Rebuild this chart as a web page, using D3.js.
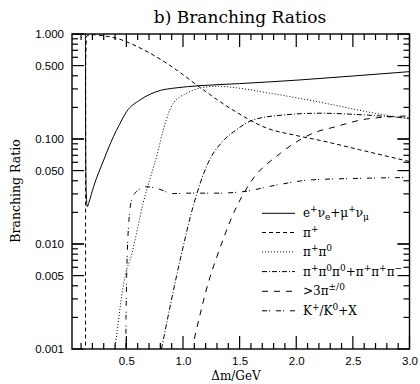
<!DOCTYPE html>
<html>
<head>
  <meta charset="utf-8">
  <title>b) Branching Ratios</title>
  <script src="https://d3js.org/d3.v7.min.js"></script>
  <style>
    body { margin: 0; background: #fff; }
    svg { display: block; }
    .frame { fill: none; stroke: #000; stroke-width: 1.4; }
    .serif { font-family: "DejaVu Serif", "Liberation Serif", serif; fill: #000; }
    .curve { fill: none; stroke: #000; stroke-width: 1; }
  </style>
</head>
<body>
  <svg id="chart" width="420" height="384"></svg>

  <script>
    // Branching ratios: [delta m in GeV, ratio]
    const leptonic = [
      [0.02, 1.0], [0.1385, 1.0], [0.141, 0.08], [0.146, 0.03], [0.155, 0.0227],
      [0.17, 0.025], [0.21, 0.035], [0.3, 0.063], [0.385, 0.105], [0.44, 0.138],
      [0.5, 0.181], [0.62, 0.235], [0.8, 0.29], [0.93, 0.306], [1.15, 0.322],
      [1.5, 0.337], [2.03, 0.365], [2.5, 0.398], [3.0, 0.438]
    ];
    const onePion = [
      [0.1395, 0.0005], [0.1405, 0.5], [0.15, 0.96], [0.2, 0.985], [0.3, 0.96],
      [0.415, 0.91], [0.55, 0.8], [0.71, 0.655], [0.944, 0.454], [1.15, 0.31],
      [1.44, 0.189], [1.74, 0.127], [2.0, 0.108], [2.21, 0.097], [2.56, 0.079],
      [3.0, 0.061]
    ];
    const twoPion = [
      [0.4, 0.001], [0.5, 0.0056], [0.532, 0.007], [0.65, 0.025], [0.782, 0.0786],
      [0.826, 0.122], [0.914, 0.219], [1.03, 0.272], [1.15, 0.305], [1.3, 0.318],
      [1.44, 0.31], [1.74, 0.276], [2.03, 0.244], [2.33, 0.211], [2.62, 0.182],
      [3.0, 0.155]
    ];
    const threePion = [
      [0.81, 0.001], [0.974, 0.007], [1.1, 0.025], [1.22, 0.0587], [1.35, 0.095],
      [1.47, 0.122], [1.62, 0.152], [1.88, 0.169], [2.21, 0.176], [2.62, 0.169],
      [3.0, 0.158]
    ];
    const manyPion = [
      [1.1, 0.00125], [1.24, 0.0049], [1.3, 0.0076], [1.45, 0.02], [1.59, 0.0378],
      [1.86, 0.073], [2.21, 0.12], [2.3, 0.127], [2.62, 0.155], [3.0, 0.166]
    ];
    const kaon = [
      [0.494, 0.0003], [0.497, 0.002], [0.517, 0.0136], [0.547, 0.0262], [0.605, 0.0327],
      [0.68, 0.0351], [0.768, 0.0339], [0.914, 0.0302], [1.03, 0.0305], [1.3, 0.0305],
      [1.53, 0.0315], [1.83, 0.0365], [2.12, 0.0407], [2.56, 0.0422], [3.0, 0.043]
    ];

    const xTickValues = [0.5, 1.0, 1.5, 2.0, 2.5, 3.0];
    const yTickValues = [1, 0.5, 0.1, 0.05, 0.01, 0.005, 0.001];

    const series = [
      { data: leptonic, dash: null, width: 1.2 },
      { data: onePion, dash: "4,3", width: 1 },
      { data: twoPion, dash: "1,2", width: 1 },
      { data: threePion, dash: "5,2,1,2", width: 1 },
      { data: manyPion, dash: "6,6", width: 1 },
      { data: kaon, dash: "5,2,1,6", width: 1 }
    ];

    const svg = d3.select("#chart");
    const plotL = 72, plotR = 409.5, plotT = 34, plotB = 349;

    const x = d3.scaleLinear().domain([0.02, 3.0]).range([plotL, plotR]);
    const y = d3.scaleLog().domain([0.001, 1]).range([plotB, plotT]);

    // Clip curves to the frame
    svg.append("clipPath").attr("id", "plotclip")
      .append("rect")
      .attr("x", plotL).attr("y", plotT)
      .attr("width", plotR - plotL).attr("height", plotB - plotT);

    const curveLine = d3.line()
      .x(d => x(d[0]))
      .y(d => y(d[1]))
      .curve(d3.curveMonotoneX);

    svg.append("g")
      .attr("clip-path", "url(#plotclip)")
      .selectAll("path")
      .data(series)
      .join("path")
      .attr("class", "curve")
      .attr("stroke-width", d => d.width)
      .attr("stroke-dasharray", d => d.dash)
      .attr("d", d => curveLine(d.data));

    svg.append("rect").attr("class", "frame")
      .attr("x", plotL).attr("y", plotT)
      .attr("width", plotR - plotL).attr("height", plotB - plotT);

    // Tick labels through d3 axes (their own tick lines are dropped)
    function labelAxis(axisFn, scale, values, transform, format) {
      const g = svg.append("g").attr("transform", transform)
        .call(axisFn(scale).tickValues(values).tickSize(0).tickPadding(8).tickFormat(format));
      g.select(".domain").remove();
      g.selectAll(".tick line").remove();
      g.attr("font-family", "Liberation Sans, Arial, sans-serif").attr("font-size", 11.5);
      g.selectAll(".tick text").attr("fill", "#000");
    }
    labelAxis(d3.axisBottom, x, xTickValues, `translate(0,${plotB})`, d3.format(".1f"));
    labelAxis(d3.axisLeft, y, yTickValues, `translate(${plotL},0)`, d3.format(".3f"));

    // Title and axis titles
    svg.append("text").attr("class", "serif")
      .attr("x", 240).attr("y", 23)
      .attr("text-anchor", "middle")
      .attr("font-size", 17)
      .text("b) Branching Ratios");

    svg.append("text").attr("class", "serif")
      .attr("transform", "translate(20,191) rotate(-90)")
      .attr("text-anchor", "middle")
      .attr("font-size", 12.5)
      .text("Branching Ratio");

    svg.append("text").attr("class", "serif")
      .attr("x", 236).attr("y", 380)
      .attr("text-anchor", "middle")
      .attr("font-size", 12)
      .text("\u0394m/GeV");

    // Legend, labels as [text, shift] pieces: -1 superscript, 1 subscript
    const legendLabels = [
      [["e", 0], ["+", -1], ["\u03bd", 0], ["e", 1], ["+\u03bc", 0], ["+", -1], ["\u03bd", 0], ["\u03bc", 1]],
      [["\u03c0", 0], ["+", -1]],
      [["\u03c0", 0], ["+", -1], ["\u03c0", 0], ["0", -1]],
      [["\u03c0", 0], ["+", -1], ["\u03c0", 0], ["0", -1], ["\u03c0", 0], ["0", -1], ["+\u03c0", 0], ["+", -1],
       ["\u03c0", 0], ["+", -1], ["\u03c0", 0], ["\u2212", -1]],
      [[">3\u03c0", 0], ["\u00b1/0", -1]],
      [["K", 0], ["+", -1], ["/K", 0], ["0", -1], ["+X", 0]]
    ];
    const legendY = [213.3, 232.5, 251.9, 271.6, 291.3, 310.8];

    const legend = svg.append("g");
    series.forEach((s, i) => {
      legend.append("path")
        .attr("class", "curve")
        .attr("d", `M262,${legendY[i]}H295`)
        .attr("stroke-width", s.width)
        .attr("stroke-dasharray", s.dash);
      const t = legend.append("text").attr("class", "serif")
        .attr("x", 303).attr("y", legendY[i] + 4)
        .attr("font-size", 12);
      let prev = 0;
      legendLabels[i].forEach(p => {
        const want = p[1] === -1 ? -5 : p[1] === 1 ? 3 : 0;
        const span = t.append("tspan").text(p[0]).attr("dy", want - prev);
        if (p[1] !== 0) span.attr("font-size", 9);
        prev = want;
      });
    });

    // Tick marks drawn last, as thin filled bars pointing into the frame
    const xMinor = d3.range(1, 31).map(i => i / 10);
    const yMinor = [];
    [0.001, 0.01, 0.1].forEach(base => {
      d3.range(1, 11).forEach(k => yMinor.push({ v: base * k, major: k === 1 || k === 5 || k === 10 }));
    });
    const xTickMarks = xMinor.map(v => ({ v: v, major: Math.round(v * 10) % 5 === 0 }));

    const tickLayer = svg.append("g").attr("fill", "#000");
    [plotB, plotT].forEach(edge => {
      tickLayer.append("g").selectAll("rect")
        .data(xTickMarks)
        .join("rect")
        .attr("x", d => x(d.v) - 0.6)
        .attr("width", 1.2)
        .attr("height", d => d.major ? 13 : 6)
        .attr("y", d => edge === plotB ? plotB - (d.major ? 13 : 6) : plotT);
    });
    [plotL, plotR].forEach(edge => {
      tickLayer.append("g").selectAll("rect")
        .data(yMinor)
        .join("rect")
        .attr("y", d => y(d.v) - 0.6)
        .attr("height", 1.2)
        .attr("width", d => d.major ? 12 : 6)
        .attr("x", d => edge === plotL ? plotL : plotR - (d.major ? 12 : 6));
    });
  </script>
</body>
</html>
